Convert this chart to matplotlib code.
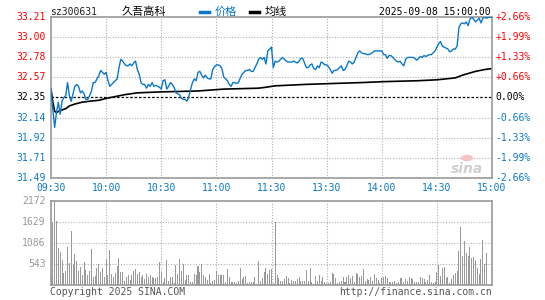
import numpy as np
import matplotlib
matplotlib.use("Agg")
import matplotlib.pyplot as plt
from matplotlib.patches import Circle
from matplotlib.transforms import blended_transform_factory

plt.rcParams['font.family'] = ['DejaVu Sans Mono', 'Noto Sans CJK SC']

# ---- data ----
code = "sz300631"
name = "久吾高科"
stamp = "2025-09-08 15:00:00"
prev_close = 32.35

# minute prices, 09:30 .. 11:30 then 13:01 .. 15:00 (241 points)
price = [
    32.44, 32.22, 32.03, 32.19, 32.30, 32.17, 32.31, 32.35, 32.37, 32.51,
    32.37, 32.31, 32.39, 32.47, 32.49, 32.47, 32.40, 32.42, 32.39, 32.33,
    32.33, 32.37, 32.42, 32.51, 32.51, 32.55, 32.58, 32.64, 32.62, 32.60,
    32.62, 32.53, 32.47, 32.49, 32.51, 32.53, 32.55, 32.67, 32.76, 32.74,
    32.71, 32.69, 32.69, 32.71, 32.69, 32.72, 32.74, 32.65, 32.60, 32.51,
    32.49, 32.49, 32.45, 32.49, 32.47, 32.51, 32.47, 32.48, 32.47, 32.46,
    32.44, 32.53, 32.54, 32.44, 32.47, 32.51, 32.49, 32.46, 32.40, 32.39,
    32.38, 32.34, 32.33, 32.33, 32.31, 32.36, 32.44, 32.51, 32.55, 32.53,
    32.62, 32.63, 32.59, 32.56, 32.59, 32.56, 32.55, 32.55, 32.65, 32.68,
    32.70, 32.70, 32.69, 32.66, 32.57, 32.55, 32.53, 32.49, 32.47, 32.51,
    32.51, 32.50, 32.51, 32.56, 32.60, 32.62, 32.64, 32.64, 32.65, 32.63,
    32.63, 32.67, 32.71, 32.76, 32.78, 32.76, 32.78, 32.71, 32.85, 32.87,
    32.89, 32.67, 32.74, 32.73, 32.74, 32.76, 32.78, 32.76, 32.74, 32.73,
    32.73, 32.73, 32.74, 32.73, 32.72, 32.74, 32.77, 32.77, 32.72, 32.67,
    32.67, 32.70, 32.71, 32.66, 32.65, 32.69, 32.67, 32.73, 32.72, 32.70,
    32.70, 32.68, 32.65, 32.61, 32.64, 32.64, 32.65, 32.67, 32.69, 32.64,
    32.65, 32.69, 32.74, 32.73, 32.71, 32.73, 32.78, 32.83, 32.85, 32.83,
    32.82, 32.82, 32.81, 32.81, 32.82, 32.83, 32.85, 32.85, 32.85, 32.85,
    32.85, 32.81, 32.81, 32.77, 32.80, 32.80, 32.78, 32.76, 32.74, 32.73,
    32.74, 32.71, 32.69, 32.76, 32.78, 32.78, 32.78, 32.78, 32.77, 32.75,
    32.77, 32.79, 32.78, 32.80, 32.79, 32.80, 32.81, 32.81, 32.83, 32.85,
    32.89, 32.93, 32.95, 32.90, 32.89, 32.88, 32.87, 32.84, 32.85, 32.87,
    32.87, 32.90, 33.10, 33.14, 33.15, 33.14, 33.16, 33.12, 33.19, 33.21,
    33.19, 33.16, 33.18, 33.20, 33.15, 33.20, 33.21, 33.20, 33.21, 33.21,
    33.21,
]

# average-price line, sampled where it bends
avg_t = [0, 1, 2, 3, 5, 8, 10, 13, 17, 21, 26, 30, 35, 40, 47, 60, 80, 94,
         113, 117, 122, 138, 153, 169, 181, 200, 210, 220, 224, 231, 236, 240]
avg_v = [32.44, 32.30, 32.20, 32.19, 32.21, 32.23, 32.26, 32.28, 32.30, 32.31,
         32.32, 32.34, 32.36, 32.38, 32.40, 32.41, 32.42, 32.44, 32.45, 32.46,
         32.475, 32.49, 32.50, 32.51, 32.52, 32.53, 32.54, 32.56, 32.59, 32.63,
         32.65, 32.66]

# minute volume (lots)
volume = [
    240, 1640, 2172, 1657, 970, 867, 652, 326, 369, 996,
    567, 1400, 550, 807, 635, 369, 481, 266, 610, 395,
    266, 369, 936, 223, 249, 455, 541, 352, 455, 223,
    678, 266, 910, 292, 223, 309, 507, 712, 335, 352,
    112, 223, 266, 137, 266, 369, 421, 283, 335, 223,
    266, 163, 283, 223, 266, 223, 197, 197, 223, 610,
    335, 77, 180, 652, 112, 223, 223, 52, 524, 300,
    678, 369, 541, 137, 266, 266, 94, 77, 283, 266,
    507, 335, 541, 266, 223, 137, 300, 52, 112, 137,
    369, 266, 266, 266, 266, 77, 421, 223, 77, 77,
    77, 52, 112, 455, 163, 223, 249, 52, 77, 94,
    77, 223, 26, 627, 112, 197, 335, 455, 283, 386,
    421, 60, 1623, 266, 197, 112, 112, 163, 240, 197,
    52, 137, 112, 112, 163, 223, 112, 112, 112, 395,
    112, 438, 77, 26, 249, 112, 266, 112, 223, 77,
    52, 52, 77, 309, 283, 180, 52, 77, 112, 223,
    77, 223, 266, 180, 249, 94, 309, 283, 223, 249,
    421, 112, 163, 137, 223, 112, 283, 197, 137, 52,
    180, 223, 249, 180, 77, 77, 77, 112, 52, 77,
    180, 180, 77, 163, 112, 223, 180, 163, 77, 77,
    77, 223, 197, 163, 77, 137, 266, 77, 52, 77,
    352, 524, 240, 455, 481, 180, 215, 60, 163, 266,
    326, 369, 884, 1502, 755, 1142, 841, 755, 987, 712,
    738, 644, 438, 283, 678, 1168, 549, 824, 0, 0,
    0,
]

price_levels = [31.49, 31.705, 31.92, 32.135, 32.35, 32.565, 32.78, 32.995, 33.21]
price_labels = ["31.49", "31.71", "31.92", "32.14", "32.35",
                "32.57", "32.78", "33.00", "33.21"]
pct_labels = ["-2.66%", "-1.99%", "-1.33%", "-0.66%", "0.00%",
              "+0.66%", "+1.33%", "+1.99%", "+2.66%"]

x_ticks = [0, 30, 60, 90, 120, 150, 180, 210, 240]
x_labels = ["09:30", "10:00", "10:30", "11:00", "11:30",
            "13:30", "14:00", "14:30", "15:00"]
vol_ticks = [543, 1086, 1629, 2172]

# ---- styling ----
BLUE = "#0a78c8"
RED = "#ff0000"
GRAY = "#999999"
GRID = "#b0b0b0"

t = np.arange(len(price))

fig = plt.figure(figsize=(5.45, 3.0), dpi=100)
ax = fig.add_axes([51 / 545, 1 - 177.7 / 300, 441 / 545, 160.4 / 300])
axv = fig.add_axes([51 / 545, 1 - 285.3 / 300, 441 / 545, 84.3 / 300])

for a in (ax, axv):
    for s in a.spines.values():
        s.set_color(GRAY)
        s.set_linewidth(1.2)
    a.set_xlim(0, 240)
    a.tick_params(length=0)
    a.set_xticks([])
    a.set_yticks([])
    for xt in x_ticks[1:-1]:
        a.axvline(xt, color=GRID, lw=0.8, ls=(0, (1, 1.5)), zorder=0)

ax.set_ylim(price_levels[0], price_levels[-1])
for k, lv in enumerate(price_levels):
    if k in (0, 8):
        continue
    if k == 4:
        ax.axhline(lv, color="black", lw=0.9, ls=(0, (2, 1.5)), zorder=1)
    else:
        ax.axhline(lv, color=GRID, lw=0.8, ls=(0, (1, 1.5)), zorder=0)

ax.plot(t, price, color=BLUE, lw=1.0, zorder=3)
ax.plot(avg_t, avg_v, color="black", lw=1.2, zorder=2)

ytr = blended_transform_factory(ax.transAxes, ax.transData)
for k, lv in enumerate(price_levels):
    c = RED if k > 4 else (BLUE if k < 4 else "black")
    ax.text(-0.012, lv, price_labels[k], transform=ytr, ha="right",
            va="center", fontsize=7, color=c)
    ax.text(1.008, lv, pct_labels[k], transform=ytr, ha="left",
            va="center", fontsize=7, color=c)

xtr = blended_transform_factory(ax.transData, ax.transAxes)
for xt, lab in zip(x_ticks, x_labels):
    ax.text(xt, -0.035, lab, transform=xtr, ha="center", va="top",
            fontsize=7, color=BLUE)

# volume panel
axv.set_ylim(0, vol_ticks[-1])
for v in vol_ticks[:-1]:
    axv.axhline(v, color=GRID, lw=0.8, ls=(0, (1, 1.5)), zorder=0)
axv.bar(t, volume, width=0.55, color=GRAY, zorder=2)
vtr = blended_transform_factory(axv.transAxes, axv.transData)
for v in vol_ticks:
    axv.text(-0.012, v, str(v), transform=vtr, ha="right", va="center",
             fontsize=7, color=GRAY)

# header
cjk = ["Noto Sans CJK SC", "DejaVu Sans"]
fig.text(50 / 545, 1 - 12 / 300, code, fontsize=7, color="#222222",
         ha="left", va="center")
fig.text(122 / 545, 1 - 12 / 300, name, fontsize=8, color="black",
         ha="left", va="center", family=cjk)
fig.lines.append(plt.Line2D([200 / 545, 209 / 545], [1 - 12 / 300] * 2,
                            transform=fig.transFigure, color=BLUE, lw=2.5))
fig.text(215 / 545, 1 - 12 / 300, "价格", fontsize=8, color=BLUE,
         ha="left", va="center", family=cjk)
fig.lines.append(plt.Line2D([250 / 545, 259 / 545], [1 - 12 / 300] * 2,
                            transform=fig.transFigure, color="black", lw=2.5))
fig.text(265 / 545, 1 - 12 / 300, "均线", fontsize=8, color="black",
         ha="left", va="center", family=cjk)
fig.text(491 / 545, 1 - 12 / 300, stamp, fontsize=7, color="black",
         ha="right", va="center")

# watermark
fig.patches.append(Circle((467 / 545, 1 - 158 / 300), 0.011,
                          transform=fig.transFigure, facecolor="#f4c4c4",
                          edgecolor="none"))
fig.text(467 / 545, 1 - 169 / 300, "sina", fontsize=10, color="#cfcfcf",
         ha="center", va="center", style="italic", weight="bold",
         family="DejaVu Sans")

# footer
fig.text(50 / 545, 1 - 292 / 300, "Copyright 2025 SINA.COM", fontsize=7,
         color="#555555", ha="left", va="center")
fig.text(492 / 545, 1 - 292 / 300, "http://finance.sina.com.cn", fontsize=7,
         color="#555555", ha="right", va="center")

fig.savefig("out.png", dpi=100, facecolor="white")
